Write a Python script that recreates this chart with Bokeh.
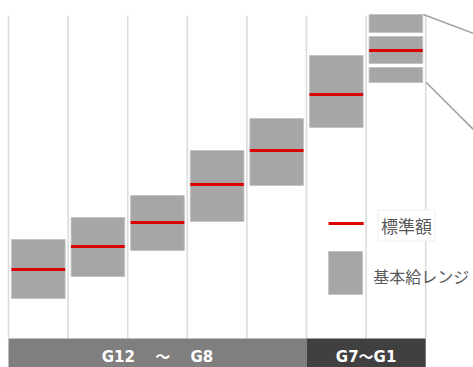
from bokeh.plotting import figure
from bokeh.models import Range1d, Label
from bokeh.core.properties import value
from bokeh.embed import file_html
from bokeh.resources import INLINE

# ---- data (arbitrary salary units) ----
columns = [0, 1, 2, 3, 4, 5, 6]
range_low = [69, 91, 117, 146, 182, 240]
range_high = [128, 150, 172, 217, 249, 312]
standard = [98, 121, 145, 183, 217, 273, 317]
# last column is split into three sub-bands
seg_low = [285, 304, 335]
seg_high = [300, 331, 353]

band_start = [0, 5]
band_end = [5, 7]
band_labels = ["G12\u3000 \uff5e \u3000G8", "G7\uff5eG1"]
band_colors = ["#7f7f7f", "#404040"]

legend_labels = ["標準額", "基本給レンジ"]

# ---- style ----
BOX = "#a6a6a6"
BOX_LINE = "#c4c4c4"
RED = "#dd0000"
GRID = "#dcdcdc"
W = 0.9
COLW = 59.6  # pixels per column

p = figure(width=473, height=367, output_backend="svg", toolbar_location=None,
           x_range=Range1d(-8 / COLW, 465 / COLW), y_range=Range1d(0, 367),
           x_axis_type=None, y_axis_type=None, min_border=0)
p.xgrid.visible = False
p.ygrid.visible = False
p.outline_line_color = None
p.background_fill_color = "white"

# vertical grid lines
gx = list(range(len(columns) + 1))
p.segment(x0=gx, y0=[29] * len(gx), x1=gx, y1=[352] * len(gx),
          line_color=GRID, line_width=1.6)

# range boxes
n = len(range_low)
cx = [c + 0.5 for c in columns]
p.quad(left=[c - W / 2 for c in cx[:n]], right=[c + W / 2 for c in cx[:n]],
       bottom=range_low, top=range_high,
       fill_color=BOX, line_color=BOX_LINE, line_width=1)

# last column segments
lc = cx[-1]
p.quad(left=[lc - W / 2] * len(seg_low), right=[lc + W / 2] * len(seg_low),
       bottom=seg_low, top=seg_high,
       fill_color=BOX, line_color=BOX_LINE, line_width=1)

# standard amounts
p.segment(x0=[c - W / 2 for c in cx], y0=standard,
          x1=[c + W / 2 for c in cx], y1=standard,
          line_color=RED, line_width=3)

# callout lines from last column
x_start = lc + W / 2 + 0.01
p.segment(x0=[x_start, x_start + 0.05], y0=[max(seg_high), min(seg_low)],
          x1=[7.85, 7.85], y1=[max(seg_high) - 20, min(seg_low) - 50],
          line_color="#a0a0a0", line_width=1.6)

# bottom bands
p.quad(left=band_start, right=band_end, bottom=[-5, -5], top=[29, 29],
       fill_color=band_colors, line_color=None)
p.text(x=[(a + b) / 2 for a, b in zip(band_start, band_end)], y=[11, 11],
       text=band_labels, text_color="white",
       text_font=value("DejaVu Sans, Noto Sans CJK JP"),
       text_font_style="bold", text_font_size="15px",
       text_align="center", text_baseline="middle")

# legend
p.segment(x0=[5.37], y0=[144], x1=[5.96], y1=[144], line_color=RED, line_width=3)
p.quad(left=[5.37], right=[5.94], bottom=[73], top=[116],
       fill_color=BOX, line_color=BOX_LINE, line_width=1)
p.add_layout(Label(x=6.2, y=142, text=legend_labels[0], text_font="Noto Sans CJK JP",
                   text_font_size="17px", text_color="#595959", text_baseline="middle",
                   background_fill_color="white", border_line_color="#eeeeee",
                   padding=3))
p.add_layout(Label(x=6.12, y=92, text=legend_labels[1], text_font="Noto Sans CJK JP",
                   text_font_size="16px", text_color="#595959", text_baseline="middle"))

open("out.html", "w").write(file_html(p, INLINE))
